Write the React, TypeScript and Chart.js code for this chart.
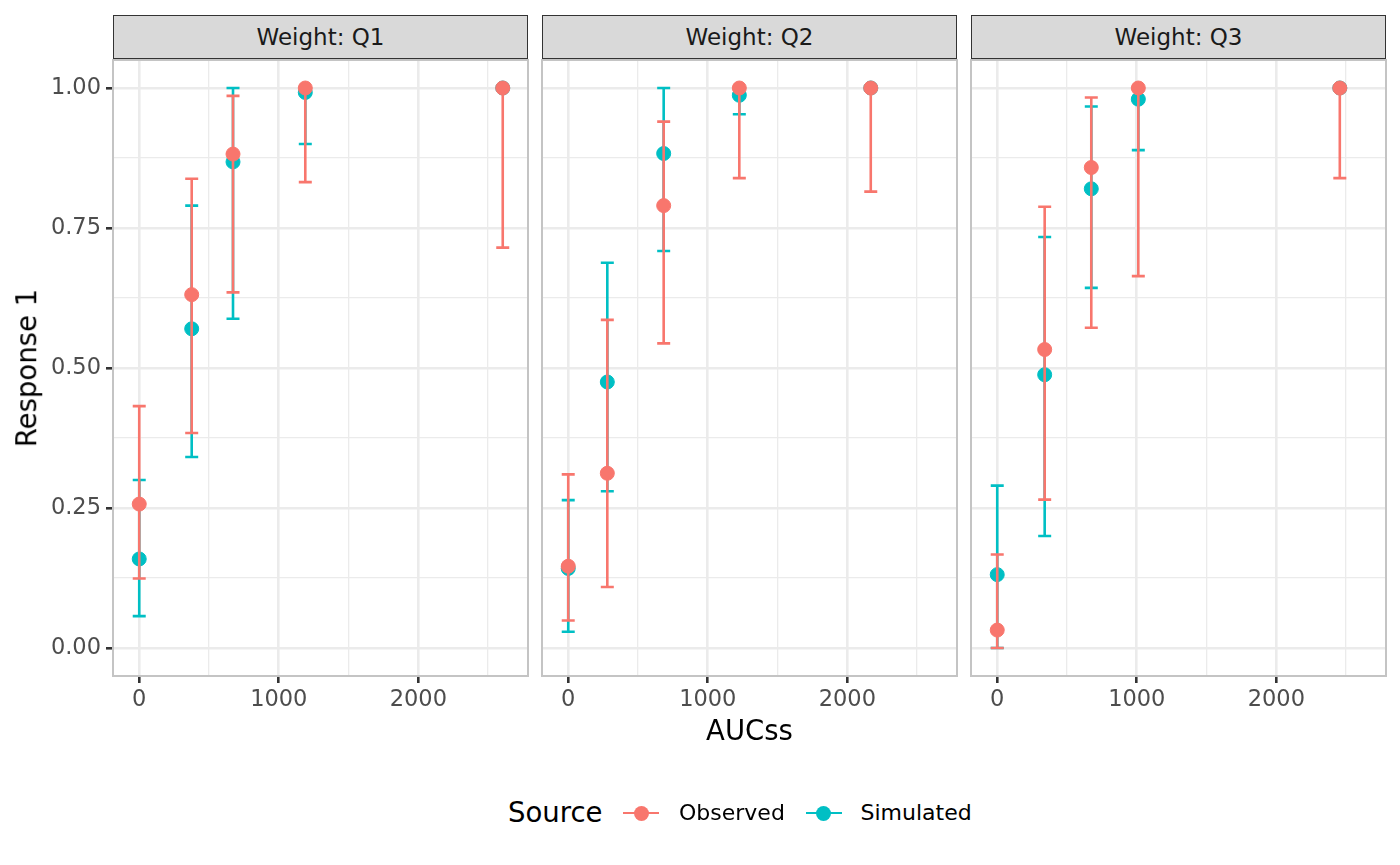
import { useRef, useEffect } from "react";
import { Chart, registerables } from "chart.js";

Chart.register(...registerables);
Chart.defaults.font.family = "DejaVu Sans";

const panelTitles = ["Weight: Q1", "Weight: Q2", "Weight: Q3"];

const aucQ1 = [0, 376, 672, 1190, 2605];
const obsQ1 = [0.257, 0.631, 0.882, 1.0, 1.0];
const obsLoQ1 = [0.124, 0.384, 0.635, 0.832, 0.715];
const obsHiQ1 = [0.432, 0.838, 0.986, 1.0, 1.0];
const simQ1 = [0.159, 0.57, 0.868, 0.992, 1.0];
const simLoQ1 = [0.057, 0.341, 0.588, 0.9, 1.0];
const simHiQ1 = [0.3, 0.79, 1.0, 1.0, 1.0];

const aucQ2 = [0, 280, 684, 1226, 2168];
const obsQ2 = [0.146, 0.312, 0.79, 1.0, 1.0];
const obsLoQ2 = [0.049, 0.109, 0.544, 0.839, 0.815];
const obsHiQ2 = [0.31, 0.586, 0.94, 1.0, 1.0];
const simQ2 = [0.142, 0.475, 0.883, 0.987, 1.0];
const simLoQ2 = [0.029, 0.28, 0.709, 0.953, 1.0];
const simHiQ2 = [0.264, 0.688, 1.0, 1.0, 1.0];

const aucQ3 = [0, 340, 674, 1011, 2455];
const obsQ3 = [0.032, 0.533, 0.858, 1.0, 1.0];
const obsLoQ3 = [0.0, 0.265, 0.572, 0.664, 0.839];
const obsHiQ3 = [0.167, 0.788, 0.983, 1.0, 1.0];
const simQ3 = [0.131, 0.488, 0.82, 0.98, 1.0];
const simLoQ3 = [0.0, 0.2, 0.643, 0.889, 1.0];
const simHiQ3 = [0.29, 0.734, 0.967, 1.0, 1.0];

const xGridValues = [0, 500, 1000, 1500, 2000, 2500];
const xLabelValues = [0, 1000, 2000];
const yGridValues = [0, 0.125, 0.25, 0.375, 0.5, 0.625, 0.75, 0.875, 1];
const yLabelValues = [0, 0.25, 0.5, 0.75, 1];

const OBS_COLOR = "#F8766D";
const SIM_COLOR = "#00BFC4";

const PANEL_W = 415;
const PANEL_H = 616;
const PANEL_TOP = 60;
const X_AXIS_H = 44;
const Y_AXIS_W = 111;
const PAD = 2;

const errorBars = {
  id: "errorBars",
  beforeDatasetDraw(chart: any, args: any) {
    const ds = chart.data.datasets[args.index];
    const { ctx, chartArea, scales } = chart;
    ctx.save();
    ctx.beginPath();
    ctx.rect(chartArea.left, chartArea.top, chartArea.width, chartArea.height);
    ctx.clip();
    ctx.strokeStyle = ds.borderColor;
    ctx.lineWidth = 2.6;
    ds.data.forEach((p: any, i: number) => {
      const px = scales.x.getPixelForValue(p.x);
      const top = scales.y.getPixelForValue(ds.errHigh[i]);
      const bottom = scales.y.getPixelForValue(ds.errLow[i]);
      ctx.beginPath();
      ctx.moveTo(px, top);
      ctx.lineTo(px, bottom);
      ctx.moveTo(px - 6.5, top);
      ctx.lineTo(px + 6.5, top);
      ctx.moveTo(px - 6.5, bottom);
      ctx.lineTo(px + 6.5, bottom);
      ctx.stroke();
    });
    ctx.restore();
  },
  afterDraw(chart: any) {
    const { ctx, chartArea } = chart;
    ctx.save();
    ctx.strokeStyle = "#C4C4C4";
    ctx.lineWidth = 2;
    ctx.strokeRect(chartArea.left, chartArea.top, chartArea.width, chartArea.height);
    ctx.restore();
  },
};

interface PanelProps {
  title: string;
  left: number;
  showY: boolean;
  auc: number[];
  obs: number[];
  obsLo: number[];
  obsHi: number[];
  sim: number[];
  simLo: number[];
  simHi: number[];
}

const Panel = ({ title, left, showY, auc, obs, obsLo, obsHi, sim, simLo, simHi }: PanelProps) => {
  const chartRef = useRef<HTMLCanvasElement>(null);
  const yW = showY ? Y_AXIS_W : 0;
  const canvasW = PAD + yW + PANEL_W + PAD;
  const canvasH = PAD + PANEL_H + X_AXIS_H;
  const canvasLeft = left - PAD - yW;

  useEffect(() => {
    if (!chartRef.current) return;
    const chart = new Chart(chartRef.current, {
      type: "scatter",
      data: {
        datasets: [
          {
            label: "Observed",
            data: auc.map((x, i) => ({ x, y: obs[i] })),
            backgroundColor: OBS_COLOR,
            borderColor: OBS_COLOR,
            pointRadius: 7,
            pointBorderWidth: 1,
            errLow: obsLo,
            errHigh: obsHi,
          } as any,
          {
            label: "Simulated",
            data: auc.map((x, i) => ({ x, y: sim[i] })),
            backgroundColor: SIM_COLOR,
            borderColor: SIM_COLOR,
            pointRadius: 7,
            pointBorderWidth: 1,
            errLow: simLo,
            errHigh: simHi,
          } as any,
        ],
      },
      options: {
        responsive: false,
        animation: false,
        events: [],
        layout: { autoPadding: false, padding: { top: PAD, left: PAD, right: PAD, bottom: 0 } },
        plugins: { legend: { display: false }, tooltip: { enabled: false } },
        scales: {
          x: {
            type: "linear",
            min: -188,
            max: 2786,
            afterBuildTicks: (scale: any) => {
              scale.ticks = xGridValues.map((value) => ({ value }));
            },
            afterFit: (scale: any) => {
              scale.height = X_AXIS_H;
              scale.paddingLeft = 0;
              scale.paddingRight = 0;
            },
            border: { display: false },
            grid: {
              color: "#EBEBEB",
              lineWidth: (c: any) => (xLabelValues.includes(c.tick?.value) ? 2.6 : 1.3),
              tickColor: (c: any) => (xLabelValues.includes(c.tick?.value) ? "#333333" : "rgba(0,0,0,0)"),
              tickWidth: 2.6,
              tickLength: 7,
            },
            ticks: {
              autoSkip: false,
              maxRotation: 0,
              padding: 4,
              color: "#4D4D4D",
              font: { size: 22.5 },
              callback: (v: any) => (xLabelValues.includes(v) ? String(v) : ""),
            },
          },
          y: {
            type: "linear",
            min: -0.05,
            max: 1.05,
            afterBuildTicks: (scale: any) => {
              scale.ticks = yGridValues.map((value) => ({ value }));
            },
            afterFit: (scale: any) => {
              scale.width = yW;
              scale.paddingTop = 0;
              scale.paddingBottom = 0;
            },
            border: { display: false },
            grid: {
              color: "#EBEBEB",
              lineWidth: (c: any) => (yLabelValues.includes(c.tick?.value) ? 2.6 : 1.3),
              tickColor: (c: any) => (yLabelValues.includes(c.tick?.value) ? "#333333" : "rgba(0,0,0,0)"),
              tickWidth: 2.6,
              tickLength: 7,
              drawTicks: showY,
            },
            ticks: {
              display: showY,
              autoSkip: false,
              padding: 5,
              color: "#4D4D4D",
              font: { size: 22.5 },
              callback: (v: any) => (yLabelValues.includes(v) ? Number(v).toFixed(2) : ""),
            },
          },
        },
      } as any,
      plugins: [errorBars],
    });
    return () => chart.destroy();
  }, []);

  return (
    <>
      <div
        style={{
          position: "absolute",
          left,
          top: 15,
          width: PANEL_W,
          height: 44,
          boxSizing: "border-box",
          background: "#D9D9D9",
          border: "1.5px solid #333333",
          display: "flex",
          alignItems: "center",
          justifyContent: "center",
          fontSize: 23,
          color: "#1A1A1A",
        }}
      >
        {title}
      </div>
      <canvas
        ref={chartRef}
        width={canvasW}
        height={canvasH}
        style={{ position: "absolute", left: canvasLeft, top: PANEL_TOP - PAD, width: canvasW, height: canvasH }}
      />
    </>
  );
};

const LegendKey = ({ left, color }: { left: number; color: string }) => (
  <div style={{ position: "absolute", left, top: 813 - 8, width: 36, height: 16 }}>
    <div style={{ position: "absolute", left: 0, top: 6.6, width: 36, height: 2.8, background: color }} />
    <div
      style={{
        position: "absolute",
        left: 18 - 7.5,
        top: 0.5,
        width: 15,
        height: 15,
        borderRadius: "50%",
        background: color,
      }}
    />
  </div>
);

const App = () => {
  return (
    <div
      style={{
        position: "absolute",
        left: 0,
        top: 0,
        width: 1400,
        height: 865,
        background: "#FFFFFF",
        fontFamily: "DejaVu Sans",
        overflow: "hidden",
      }}
    >
      <Panel title={panelTitles[0]} left={113} showY auc={aucQ1} obs={obsQ1} obsLo={obsLoQ1} obsHi={obsHiQ1} sim={simQ1} simLo={simLoQ1} simHi={simHiQ1} />
      <Panel title={panelTitles[1]} left={542} showY={false} auc={aucQ2} obs={obsQ2} obsLo={obsLoQ2} obsHi={obsHiQ2} sim={simQ2} simLo={simLoQ2} simHi={simHiQ2} />
      <Panel title={panelTitles[2]} left={971} showY={false} auc={aucQ3} obs={obsQ3} obsLo={obsLoQ3} obsHi={obsHiQ3} sim={simQ3} simLo={simLoQ3} simHi={simHiQ3} />

      <div
        style={{
          position: "absolute",
          left: 27,
          top: 368,
          transform: "translate(-50%, -50%) rotate(-90deg)",
          fontSize: 27.5,
          lineHeight: 1,
          whiteSpace: "nowrap",
          color: "#000000",
        }}
      >
        Response 1
      </div>
      <div
        style={{
          position: "absolute",
          left: 749.5,
          top: 731,
          transform: "translate(-50%, -50%)",
          fontSize: 27.5,
          lineHeight: 1,
          whiteSpace: "nowrap",
          color: "#000000",
        }}
      >
        AUCss
      </div>

      <div style={{ position: "absolute", left: 508, top: 813, transform: "translateY(-50%)", fontSize: 27.5, lineHeight: 1, color: "#000000" }}>
        Source
      </div>
      <LegendKey left={623} color={OBS_COLOR} />
      <div style={{ position: "absolute", left: 679, top: 813, transform: "translateY(-50%)", fontSize: 22, lineHeight: 1, color: "#000000" }}>
        Observed
      </div>
      <LegendKey left={805.5} color={SIM_COLOR} />
      <div style={{ position: "absolute", left: 860.5, top: 813, transform: "translateY(-50%)", fontSize: 22, lineHeight: 1, color: "#000000" }}>
        Simulated
      </div>
    </div>
  );
};

export default App;
